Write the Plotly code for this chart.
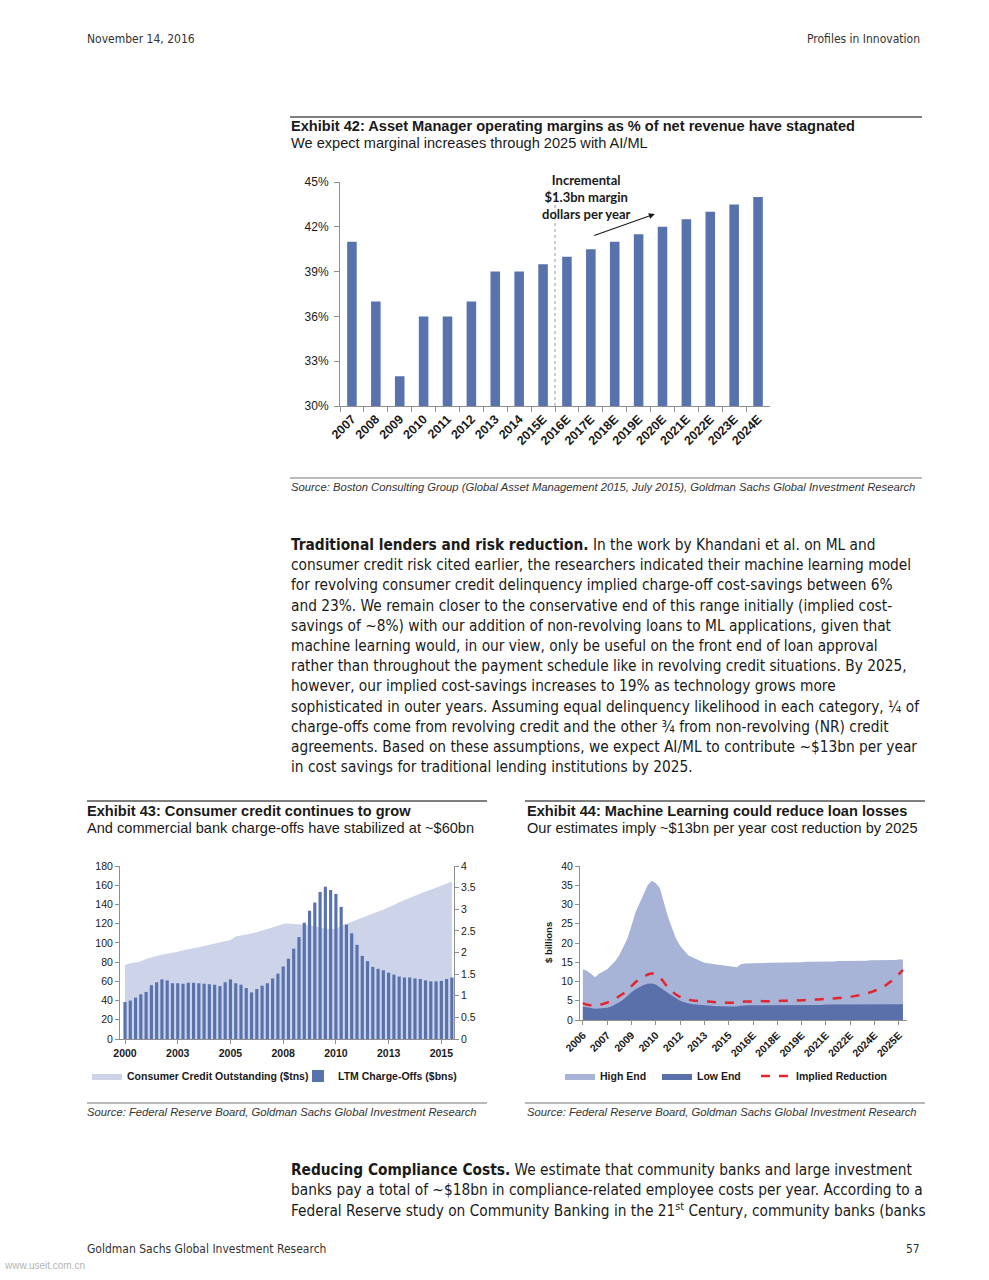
import plotly.graph_objects as go

W, H = 989, 1280
def px(x): return x / W
def py(y): return 1 - y / H

FONT = "Liberation Sans, Arial, Helvetica, sans-serif"
NARROW = "Liberation Sans Narrow, Arial Narrow, DejaVu Sans Condensed, sans-serif"
CAL = "Lato, Open Sans, sans-serif"
INK = "#1a1a1a"
AXIS = "#8f8f8f"
BAR = "#5872ae"

# ---------------- Exhibit 42 data ----------------
ex42_years = ["2007", "2008", "2009", "2010", "2011", "2012", "2013", "2014", "2015E",
              "2016E", "2017E", "2018E", "2019E", "2020E", "2021E", "2022E", "2023E", "2024E"]
ex42_margin_pct = [41, 37, 32, 36, 36, 37, 39, 39, 39.5, 40, 40.5, 41, 41.5, 42, 42.5, 43, 43.5, 44]

# ---------------- Exhibit 43 data ----------------
ex43_quarters = [f"{y}Q{q}" for y in range(2000, 2016) for q in range(1, 5)][:63]
ex43_chargeoffs_bn = [38.5, 40, 43, 46.5, 49, 56, 59, 62, 61, 58,
                      58, 57.5, 58.5, 58.5, 58, 57.5, 57, 56.5, 55, 59,
                      62, 58, 56.5, 53, 48.5, 52, 55.5, 58, 63, 68,
                      75.5, 83.5, 94, 106, 121, 133.5, 142, 153, 158.5, 155,
                      151, 137.5, 119, 110, 98, 86.5, 81, 75, 73, 71.5,
                      69, 67, 65, 64, 64, 63, 62.5, 61, 60, 60,
                      60.5, 62.5, 64]
ex43_credit_tn = [1.71, 1.75, 1.77, 1.80, 1.85, 1.89, 1.92, 1.95, 1.97, 1.99,
                  2.02, 2.05, 2.07, 2.09, 2.12, 2.15, 2.18, 2.21, 2.24, 2.26,
                  2.29, 2.37, 2.39, 2.41, 2.44, 2.47, 2.51, 2.55, 2.59, 2.63,
                  2.66, 2.67, 2.66, 2.65, 2.64, 2.63, 2.60, 2.57, 2.55, 2.54,
                  2.55, 2.62, 2.66, 2.71, 2.76, 2.81, 2.86, 2.91, 2.95, 2.99,
                  3.04, 3.10, 3.16, 3.21, 3.27, 3.32, 3.36, 3.41, 3.45, 3.50,
                  3.55, 3.60, 3.64]
ex43_tick_quarters = ["2000Q1", "2002Q3", "2005Q1", "2007Q3", "2010Q1", "2012Q3", "2015Q1"]
ex43_tick_labels = ["2000", "2003", "2005", "2008", "2010", "2013", "2015"]

# ---------------- Exhibit 44 data ----------------
ex44_quarters = [f"{y}Q{q}" for y in range(2006, 2026) for q in range(1, 5)]
ex44_high_end = [13.2, 12.8, 12.0, 11.1, 12.0, 12.7, 13.2, 14.2, 15.3, 16.8,
                 19.0, 21.2, 24.5, 28.0, 30.3, 32.5, 35.0, 36.2, 35.5, 34.3,
                 30.5, 26.8, 23.9, 21.2, 19.3, 18.0, 16.8, 16.3, 15.7, 15.3,
                 14.9, 14.7, 14.5, 14.4, 14.3, 14.1, 13.9, 13.8, 13.7, 14.5,
                 14.7, 14.7, 14.8, 14.8, 14.8, 14.8, 14.9, 14.9, 14.9, 14.9,
                 15.0, 15.0, 15.0, 15.0, 15.0, 15.1, 15.1, 15.1, 15.1, 15.2,
                 15.2, 15.2, 15.2, 15.3, 15.3, 15.3, 15.3, 15.4, 15.4, 15.4,
                 15.4, 15.5, 15.5, 15.5, 15.5, 15.6, 15.6, 15.6, 15.7, 15.7]
ex44_low_end = [3.5, 3.3, 3.1, 2.9, 3.0, 3.1, 3.2, 3.5, 4.0, 4.6,
                5.3, 6.3, 7.2, 8.0, 8.6, 9.1, 9.4, 9.5, 9.2, 8.6,
                7.8, 7.0, 6.3, 5.6, 5.0, 4.6, 4.3, 4.1, 4.0, 3.9,
                3.8, 3.7, 3.7, 3.6, 3.6, 3.5, 3.5, 3.5, 3.5, 3.7,
                3.8, 3.8, 3.8, 3.8, 3.8, 3.8, 3.8, 3.8, 3.8, 3.8,
                3.9, 3.9, 3.9, 3.9, 3.9, 3.9, 3.9, 3.9, 3.9, 3.9,
                4.0, 4.0, 4.0, 4.0, 4.0, 4.0, 4.0, 4.0, 4.0, 4.0,
                4.1, 4.1, 4.1, 4.1, 4.1, 4.1, 4.1, 4.1, 4.1, 4.1]
ex44_implied = [4.4, 4.0, 3.8, 3.7, 3.9, 4.2, 4.5, 5.0, 5.5, 6.2,
                6.9, 7.8, 8.8, 9.8, 10.6, 11.2, 11.8, 12.1, 11.8, 11.1,
                9.8, 8.5, 7.5, 6.6, 6.0, 5.5, 5.3, 5.1, 5.0, 4.9,
                4.8, 4.8, 4.7, 4.6, 4.6, 4.5, 4.5, 4.5, 4.5, 4.7,
                4.8, 4.8, 4.8, 4.8, 4.9, 4.9, 4.9, 4.9, 4.9, 5.0,
                5.0, 5.0, 5.1, 5.1, 5.1, 5.2, 5.2, 5.3, 5.3, 5.4,
                5.5, 5.5, 5.6, 5.7, 5.8, 5.9, 6.0, 6.2, 6.4, 6.6,
                6.9, 7.2, 7.6, 8.0, 8.5, 9.2, 10.0, 10.9, 11.9, 13.0]
ex44_tick_quarters = ["2006Q1", "2007Q3", "2009Q1", "2010Q3", "2012Q1", "2013Q3", "2015Q1",
                      "2016Q3", "2018Q1", "2019Q3", "2021Q1", "2022Q3", "2024Q1", "2025Q3"]
ex44_tick_labels = ["2006", "2007", "2009", "2010", "2012", "2013", "2015",
                    "2016E", "2018E", "2019E", "2021E", "2022E", "2024E", "2025E"]

# ---------------- Body text ----------------
para1 = [
    "<b>Traditional lenders and risk reduction.</b> In the work by Khandani et al. on ML and",
    "consumer credit risk cited earlier, the researchers indicated their machine learning model",
    "for revolving consumer credit delinquency implied charge-off cost-savings between 6%",
    "and 23%. We remain closer to the conservative end of this range initially (implied cost-",
    "savings of ~8%) with our addition of non-revolving loans to ML applications, given that",
    "machine learning would, in our view, only be useful on the front end of loan approval",
    "rather than throughout the payment schedule like in revolving credit situations. By 2025,",
    "however, our implied cost-savings increases to 19% as technology grows more",
    "sophisticated in outer years. Assuming equal delinquency likelihood in each category, ¼ of",
    "charge-offs come from revolving credit and the other ¾ from non-revolving (NR) credit",
    "agreements. Based on these assumptions, we expect AI/ML to contribute ~$13bn per year",
    "in cost savings for traditional lending institutions by 2025.",
]
para2 = [
    "<b>Reducing Compliance Costs.</b> We estimate that community banks and large investment",
    "banks pay a total of ~$18bn in compliance-related employee costs per year. According to a",
    "Federal Reserve study on Community Banking in the 21<sup>st</sup> Century, community banks (banks",
]

fig = go.Figure()

# Exhibit 42 bars
fig.add_trace(go.Bar(x=ex42_years, y=ex42_margin_pct, marker_color=BAR, marker_line_width=0,
                     xaxis="x", yaxis="y", showlegend=False, width=0.4))

# Exhibit 43
fig.add_trace(go.Scatter(x=ex43_quarters, y=ex43_credit_tn, mode="lines", fill="tozeroy",
                         fillcolor="#cdd4e9", line=dict(width=0, color="#cdd4e9"),
                         name="Consumer Credit Outstanding ($tns)",
                         xaxis="x2", yaxis="y2", legend="legend"))
fig.add_trace(go.Bar(x=ex43_quarters, y=ex43_chargeoffs_bn, marker_color=BAR, marker_line_width=0,
                     name="LTM Charge-Offs ($bns)", width=0.6,
                     xaxis="x2", yaxis="y3", legend="legend5"))

# Exhibit 44
fig.add_trace(go.Scatter(x=ex44_quarters, y=ex44_high_end, mode="lines", fill="tozeroy",
                         fillcolor="#a8b4d7", line=dict(width=0, color="#a8b4d7"),
                         name="High End", xaxis="x3", yaxis="y4", legend="legend2"))
fig.add_trace(go.Scatter(x=ex44_quarters, y=ex44_low_end, mode="lines", fill="tozeroy",
                         fillcolor="#5a70aa", line=dict(width=0, color="#5a70aa"),
                         name="Low End", xaxis="x3", yaxis="y4", legend="legend3"))
fig.add_trace(go.Scatter(x=ex44_quarters, y=ex44_implied, mode="lines",
                         line=dict(width=2.5, color="#e2252e", dash="dash", shape="spline"),
                         name="Implied Reduction", xaxis="x3", yaxis="y4", legend="legend4"))

tickfont_small = dict(family=FONT, size=10.5, color=INK)
common = dict(showline=True, linecolor=AXIS, linewidth=1, ticks="outside", tickcolor=AXIS,
              showgrid=False, zeroline=False, automargin=False)

def legend_at(x):
    return dict(x=px(x), y=py(1076), xanchor="left", yanchor="middle", orientation="h",
                font=dict(family=FONT, size=10.5, color=INK, weight="bold"),
                bgcolor="rgba(0,0,0,0)", itemwidth=30, tracegroupgap=0)

fig.update_layout(
    template="none",
    width=W, height=H, margin=dict(l=0, r=0, t=0, b=0, pad=0, autoexpand=False),
    paper_bgcolor="white", plot_bgcolor="white",
    barmode="overlay",
    # Exhibit 42 axes
    xaxis=dict(domain=[px(340), px(770)], anchor="y", type="category", range=[-0.5, 17.5],
               ticklen=5, tickson="boundaries", tickangle=-45,
               tickfont=dict(family=FONT, size=12.5, color=INK, weight="bold"), **common),
    yaxis=dict(domain=[py(406), py(182)], anchor="x", range=[30, 45], dtick=3, ticksuffix="%",
               ticklen=5, ticklabelstandoff=3,
               tickfont=dict(family=FONT, size=12, color=INK), **common),
    # Exhibit 43 axes
    xaxis2=dict(domain=[px(120), px(454)], anchor="y2", type="category", range=[-0.95, 62.4],
                tickvals=ex43_tick_quarters, ticktext=ex43_tick_labels, ticklen=4, tickangle=0,
                tickfont=dict(family=FONT, size=10.5, color=INK, weight="bold"), **common),
    yaxis2=dict(domain=[py(1039), py(866)], anchor="x2", side="right", range=[0, 4], dtick=0.5,
                ticklen=4, tickfont=tickfont_small, **common),
    yaxis3=dict(overlaying="y2", anchor="x2", side="left", range=[0, 180], dtick=20,
                ticklen=4, tickfont=tickfont_small, **common),
    # Exhibit 44 axes
    xaxis3=dict(domain=[px(580), px(907)], anchor="y4", type="category", range=[-0.7, 80],
                tickvals=ex44_tick_quarters, ticktext=ex44_tick_labels, tickangle=-45, ticklen=4,
                tickfont=dict(family=FONT, size=10.5, color=INK, weight="bold"), **common),
    yaxis4=dict(domain=[py(1020), py(866)], anchor="x3", range=[0, 40], dtick=5,
                ticklen=4, tickfont=tickfont_small, **common),
    legend=legend_at(87),
    legend5=legend_at(298),
    legend2=legend_at(560),
    legend3=legend_at(657),
    legend4=legend_at(756),
)

anns = []
def text(x, y, s, size=13, family=FONT, color=INK, anchor="left", **kw):
    dx = -2 if anchor == "left" else (2 if anchor == "right" else 0)
    anns.append(dict(x=px(x + dx), y=py(y), xref="paper", yref="paper", text=s, showarrow=False,
                     xanchor=anchor, yanchor="middle",
                     font=dict(family=family, size=size, color=color), **kw))

# Header / footer
text(87, 39, "November 14, 2016", size=12, family=NARROW, color="#333333")
text(920, 39, "Profiles in Innovation", size=12, family=NARROW, color="#333333", anchor="right")
text(87, 1249, "Goldman Sachs Global Investment Research", size=12, family=NARROW, color="#333333")
text(920, 1249, "57", size=12, family=NARROW, color="#333333", anchor="right")
text(4, 1265, "www.useit.com.cn", size=10, family=FONT, color="#b5b5b5")

# Exhibit titles
TS = 14.6
SS = 11.25
text(291, 126, "<b>Exhibit 42: Asset Manager operating margins as % of net revenue have stagnated</b>", size=TS)
text(291, 143, "We expect marginal increases through 2025 with AI/ML", size=TS)
text(291, 487, "<i>Source: Boston Consulting Group (Global Asset Management 2015, July 2015), Goldman Sachs Global Investment Research</i>",
     size=SS, color="#333333")
text(87, 811, "<b>Exhibit 43: Consumer credit continues to grow</b>", size=TS)
text(87, 828, "And commercial bank charge-offs have stabilized at ~$60bn", size=TS)
text(87, 1112, "<i>Source: Federal Reserve Board, Goldman Sachs Global Investment Research</i>",
     size=SS, color="#333333")
text(527, 811, "<b>Exhibit 44: Machine Learning could reduce loan losses</b>", size=TS)
text(527, 828, "Our estimates imply ~$13bn per year cost reduction by 2025", size=TS)
text(527, 1112, "<i>Source: Federal Reserve Board, Goldman Sachs Global Investment Research</i>",
     size=SS, color="#333333")

# $ billions axis label
anns.append(dict(x=px(548), y=py(943), xref="paper", yref="paper", text="<b>$ billions</b>",
                 showarrow=False, textangle=-90, xanchor="center", yanchor="middle",
                 font=dict(family=FONT, size=9.5, color=INK)))

# Body paragraphs
for i, line in enumerate(para1):
    text(291, 545 + i * 20.2, line, size=15.3, family=NARROW)
for i, line in enumerate(para2):
    text(291, 1170 + i * 20.2, line, size=15.3, family=NARROW)

# Exhibit 42 callout + arrow (data coordinates)
anns.append(dict(x=9.83, y=44.0, xref="x", yref="y",
                 text="<b>Incremental<br>$1.3bn margin<br>dollars per year</b>",
                 showarrow=False, xanchor="center", yanchor="middle",
                 font=dict(family=CAL, size=13, color=INK)))
anns.append(dict(x=12.68, y=42.86, ax=10.08, ay=41.38, xref="x", yref="y", axref="x", ayref="y",
                 text="", showarrow=True, arrowhead=2, arrowsize=1, arrowwidth=1.2, arrowcolor=INK))

fig.update_layout(annotations=anns)

shapes = []
def hline(y, x0, x1, w=1.5, color="#555555"):
    shapes.append(dict(type="line", xref="paper", yref="paper", x0=px(x0), x1=px(x1),
                       y0=py(y), y1=py(y), line=dict(color=color, width=w)))

hline(117, 290, 922)
hline(478, 290, 922, w=1.2, color="#777777")
hline(801, 87, 487)
hline(801, 525, 925)
hline(1103, 87, 487, w=1.2, color="#777777")
hline(1103, 525, 925, w=1.2, color="#777777")

# dashed divider between actuals and estimates (Exhibit 42)
shapes.append(dict(type="line", xref="x", yref="y", x0=8.5, x1=8.5, y0=30, y1=44.5,
                   line=dict(color="#9a9a9a", width=1, dash="3px,3px")))
fig.update_layout(shapes=shapes)

fig.write_html("out.html", config={"responsive": False, "displayModeBar": False},
               post_script="document.body.style.margin='0';document.body.style.overflow='hidden';")
